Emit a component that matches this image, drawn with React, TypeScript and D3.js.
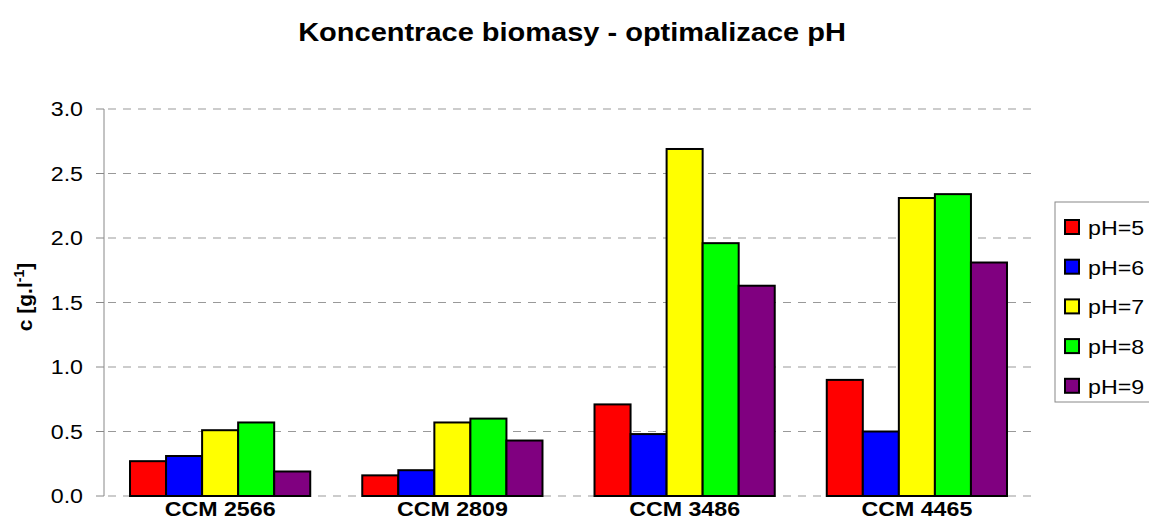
import * as d3 from 'd3'

const CATEGORIES = ['CCM 2566', 'CCM 2809', 'CCM 3486', 'CCM 4465']
const SERIES = ['pH=5', 'pH=6', 'pH=7', 'pH=8', 'pH=9']
const COLORS = ['#ff0000', '#0000ff', '#ffff00', '#00ff00', '#800080']
// values per category, in SERIES order
const PH5 = [0.27, 0.16, 0.71, 0.9]
const PH6 = [0.31, 0.2, 0.48, 0.5]
const PH7 = [0.51, 0.57, 2.69, 2.31]
const PH8 = [0.57, 0.6, 1.96, 2.34]
const PH9 = [0.19, 0.43, 1.63, 1.81]
const Y_TICKS = [0, 0.5, 1, 1.5, 2, 2.5, 3]

const VALUES = [PH5, PH6, PH7, PH8, PH9]

const W = 1149
const H = 520
const PLOT = { left: 104, right: 1033, top: 109, bottom: 496 }
const SX = 1.16 // the source picture is stretched horizontally
const FONT = '"Liberation Sans", Arial, sans-serif'

function Txt({ x, y, anchor = 'start', size, bold = false, children }: any) {
  return (
    <g transform={`translate(${x},${y}) scale(${SX},1)`}>
      <text textAnchor={anchor} fontSize={size} fontWeight={bold ? 'bold' : 'normal'} fontFamily={FONT} fill="#000">
        {children}
      </text>
    </g>
  )
}

export default function App() {
  const x0 = d3.scaleBand().domain(CATEGORIES).range([PLOT.left, PLOT.right]).paddingInner(0.224).paddingOuter(0.112)
  const x1 = d3.scaleBand().domain(SERIES).range([0, x0.bandwidth()])
  const y = d3.scaleLinear().domain([0, 3]).range([PLOT.bottom, PLOT.top])

  return (
    <svg width={W} height={H} style={{ position: 'absolute', left: 0, top: 0, background: '#fff' }}>
      <Txt x={572} y={41} anchor="middle" size={25} bold>Koncentrace biomasy - optimalizace pH</Txt>

      {/* grid */}
      {Y_TICKS.map(t => (
        <g key={t}>
          <line x1={PLOT.left - 8} x2={PLOT.left} y1={y(t)} y2={y(t)} stroke="#888" strokeWidth={1} />
          <line x1={PLOT.left + 4} x2={PLOT.right} y1={y(t)} y2={y(t)} stroke="#999" strokeWidth={1} strokeDasharray="8,7" />
          <Txt x={83} y={y(t) + 7} anchor="end" size={20}>{t.toFixed(1)}</Txt>
        </g>
      ))}
      <line x1={PLOT.left} x2={PLOT.left} y1={PLOT.top} y2={PLOT.bottom} stroke="#888" strokeWidth={1} />

      {/* bars */}
      {CATEGORIES.map((c, ci) => (
        <g key={c} transform={`translate(${x0(c)},0)`}>
          {SERIES.map((s, si) => (
            <rect key={s} x={x1(s)} y={y(VALUES[si][ci])} width={x1.bandwidth()}
              height={y(0) - y(VALUES[si][ci])} fill={COLORS[si]} stroke="#000" strokeWidth={2} />
          ))}
        </g>
      ))}

      {CATEGORIES.map(c => (
        <Txt key={c} x={x0(c)! + x0.bandwidth() / 2} y={516} anchor="middle" size={20} bold>{c}</Txt>
      ))}

      {/* y label */}
      <g transform="translate(32,297) rotate(-90)">
        <text textAnchor="middle" fontSize={21} fontWeight="bold" fontFamily={FONT}>
          c [g.l<tspan dy={-8} fontSize={14}>-1</tspan><tspan dy={8}>]</tspan>
        </text>
      </g>

      {/* legend */}
      <rect x={1055} y={202} width={110} height={200} fill="#fff" stroke="#888" strokeWidth={1} />
      {SERIES.map((s, i) => {
        const ly = 227 + i * 39.7
        return (
          <g key={s}>
            <rect x={1065} y={ly - 7} width={14} height={14} fill={COLORS[i]} stroke="#000" strokeWidth={2} />
            <Txt x={1088} y={ly + 8} size={20}>{s}</Txt>
          </g>
        )
      })}
    </svg>
  )
}
